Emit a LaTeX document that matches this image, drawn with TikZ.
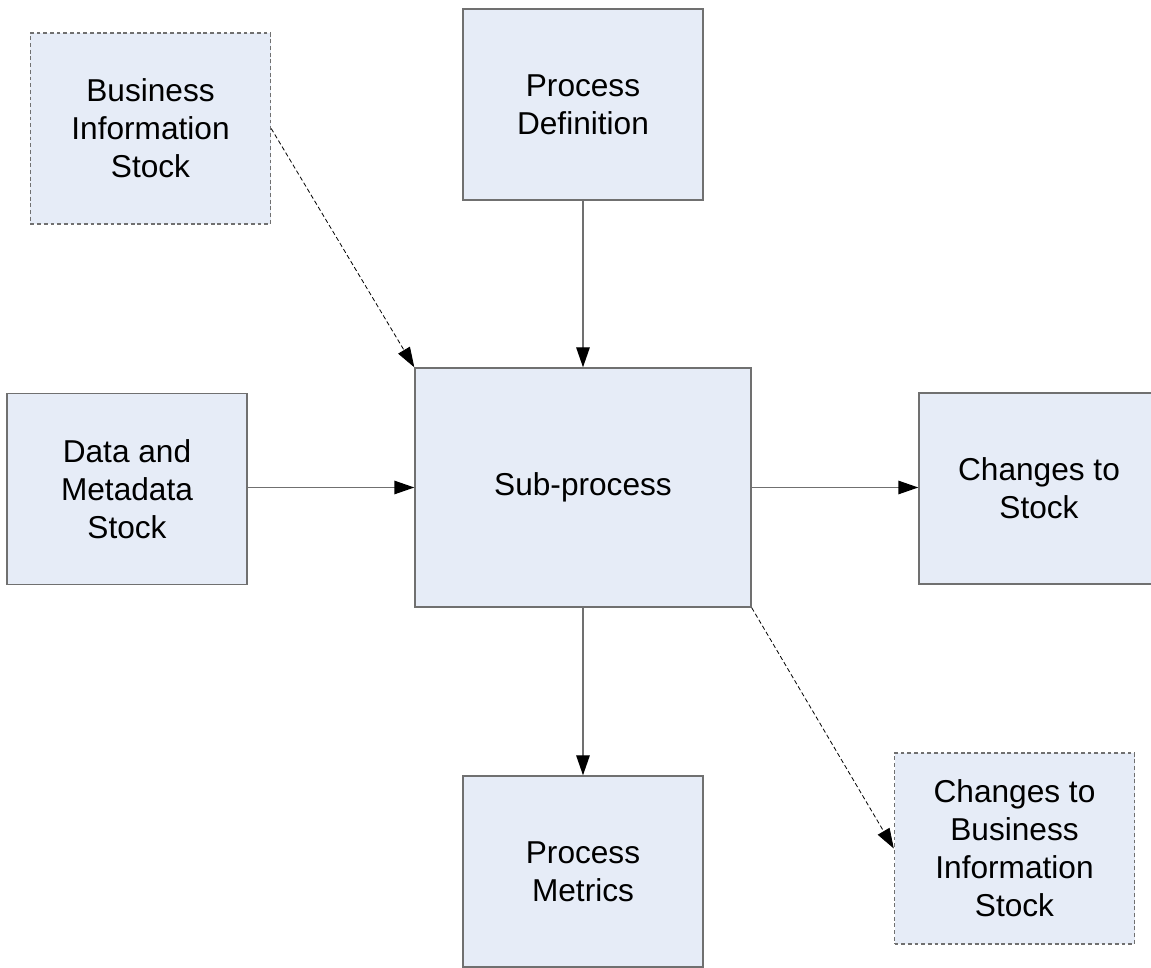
\documentclass[tikz,border=0pt]{standalone}
\usepackage{fontspec}
\setmainfont{Liberation Sans}
\usepackage{xcolor}
\usepackage{tikz}
\usetikzlibrary{arrows.meta,positioning,calc}

\definecolor{boxfill}{HTML}{E6ECF7}
\definecolor{boxline}{HTML}{707070}

\begin{document}
\begin{tikzpicture}[
    box/.style={rectangle, draw=boxline, fill=boxfill, line width=0.8pt, minimum width=4.8cm, minimum height=3.82cm, inner sep=0pt, align=center, font=\fontsize{18}{21.6}\selectfont},
    optbox/.style={box, dash pattern=on 2.2pt off 1.6pt},
    arrow/.style={-{Triangle[length=0.4cm, width=0.27cm, color=black]}, draw=boxline, line width=0.8pt},
    optarrow/.style={-{Triangle[length=0.4cm, width=0.27cm]}, draw=black, line width=0.45pt, dash pattern=on 2.5pt off 1.5pt}
]
    \useasboundingbox (0,0) rectangle (23.02,19.36);

    % Centre
    \node[box, minimum width=6.72cm, minimum height=4.78cm] (sub) at (11.66,9.61) {Sub-process};

    % Inputs
    \node[optbox] (bis) at (3.01,16.79) {Business\\Information\\Stock};
    \node[box] (def) at (11.66,17.27) {Process\\Definition};
    \node[box] (data) at (2.54,9.58) {Data and\\Metadata\\Stock};

    % Outputs
    \node[box] (chg) at (20.78,9.59) {Changes to\\Stock};
    \node[box] (met) at (11.66,1.93) {Process\\Metrics};
    \node[optbox] (chgbis) at (20.29,2.39) {Changes to\\Business\\Information\\Stock};

    % Arrows
    \draw[arrow] (def) -- (sub);
    \draw[arrow] (data.east |- sub) -- (sub);
    \draw[arrow] (sub) -- (chg.west |- sub);
    \draw[arrow] (sub) -- (met);
    \draw[optarrow] (bis.east) -- (sub.north west);
    \draw[optarrow] (sub.south east) -- (chgbis.west);
\end{tikzpicture}
\end{document}
